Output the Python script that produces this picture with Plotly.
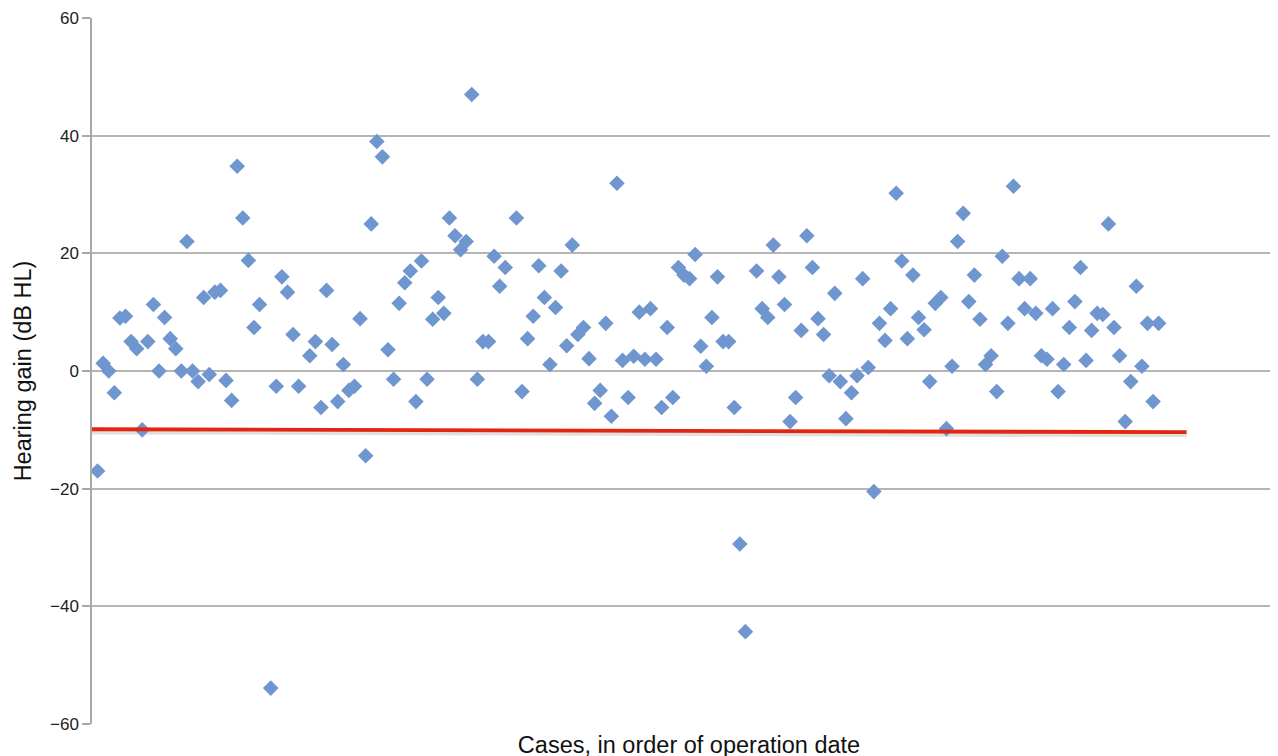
import plotly.graph_objects as go

# Hearing gain per case (dB HL), in order of operation date
gains = [
    -17, 1.3, 0, -3.7, 9, 9.3, 5, 3.8, -10, 5,
    11.3, 0, 9.1, 5.5, 3.8, 0, 22, 0, -1.8, 12.5,
    -0.6, 13.4, 13.7, -1.6, -5, 34.8, 26, 18.8, 7.4, 11.3,
    -53.9, -2.6, 16, 13.4, 6.2, -2.6, 2.6, 5, -6.2, 13.7,
    4.5, -5.2, 1.1, -3.3, -2.6, 8.9, -14.4, 25, 39, 36.4,
    3.6, -1.4, 11.5, 15, 17, -5.2, 18.7, -1.4, 8.8, 12.5,
    9.8, 26, 23, 20.6, 22, 47, -1.4, 5, 5, 19.5,
    14.4, 17.6, 26, -3.5, 5.5, 9.3, 17.9, 12.5, 1.1, 10.8,
    17, 4.3, 21.4, 6.2, 7.4, 2.1, -5.5, -3.3, 8.1, -7.7,
    31.9, 1.8, -4.5, 2.5, 10, 2, 10.6, 2, -6.2, 7.4,
    -4.5, 17.6, 16.3, 15.7, 19.8, 4.2, 0.8, 9.1, 16, 5,
    5, -6.2, -29.4, -44.3, 17, 10.6, 9.1, 21.4, 16, 11.3,
    -8.6, -4.5, 6.9, 23, 17.6, 8.9, 6.2, -0.8, 13.2, -1.8,
    -8.1, -3.7, -0.8, 15.7, 0.6, -20.5, 8.1, 5.2, 10.6, 30.2,
    18.7, 5.5, 16.3, 9.1, 7, -1.8, 11.5, 12.5, -9.8, 0.8,
    22, 26.8, 11.8, 16.3, 8.8, 1.1, 2.6, -3.5, 19.5, 8.1,
    31.4, 15.7, 10.6, 15.7, 9.8, 2.6, 2, 10.6, -3.5, 1.1,
    7.4, 11.8, 17.6, 1.8, 6.9, 9.8, 9.6, 25, 7.4, 2.6,
    -8.6, -1.8, 14.4, 0.8, 8.1, -5.2, 8.1,
]
# case numbers with no plotted value
missing_cases = [31, 38, 75, 118]

cases = []
c = 1
for _ in gains:
    while c in missing_cases:
        c += 1
    cases.append(c)
    c += 1

# threshold line (dB HL) across the cases
threshold_x = [0, 196]
threshold_y = [-9.9, -10.4]

y_ticks = [-60, -40, -20, 0, 20, 40, 60]

fig = go.Figure()
# soft shadow under the red line
fig.add_trace(go.Scatter(
    x=threshold_x, y=[v - 0.45 for v in threshold_y], mode="lines",
    line=dict(color="rgba(0,0,0,0.12)", width=5),
    hoverinfo="skip", showlegend=False,
))
fig.add_trace(go.Scatter(
    x=cases, y=gains, mode="markers",
    marker=dict(symbol="diamond", size=12, color="#6f96cf",
                line=dict(width=0)),
    showlegend=False,
))
fig.add_trace(go.Scatter(
    x=threshold_x, y=threshold_y, mode="lines",
    line=dict(color="#e3260f", width=3.8),
    showlegend=False,
))

font_family = "Liberation Sans, Arial, Helvetica, sans-serif"
fig.update_layout(
    width=1278, height=756,
    margin=dict(l=84, r=0, t=10, b=40),
    paper_bgcolor="white", plot_bgcolor="white",
    font=dict(family=font_family, color="#222222", size=17),
    xaxis=dict(
        range=[0, 213.8], showticklabels=False, showgrid=False,
        zeroline=False, ticks="", automargin=False,
        title=dict(text="Cases, in order of operation date",
                   font=dict(size=23.5, color="#111111"), standoff=12),
    ),
    yaxis=dict(
        range=[-60, 60], tickvals=y_ticks,
        showgrid=True, gridcolor="#b5b5b5", gridwidth=1.5,
        zeroline=False, automargin=False,
        showline=True, linecolor="#a8a8a8", linewidth=1.5,
        ticks="outside", ticklen=8, tickcolor="#a8a8a8", tickwidth=1.5,
        tickfont=dict(size=17, color="#222222"),
        title=dict(text="Hearing gain (dB HL)",
                   font=dict(size=23.5, color="#111111"), standoff=12),
    ),
)

fig.write_html("out.html")
